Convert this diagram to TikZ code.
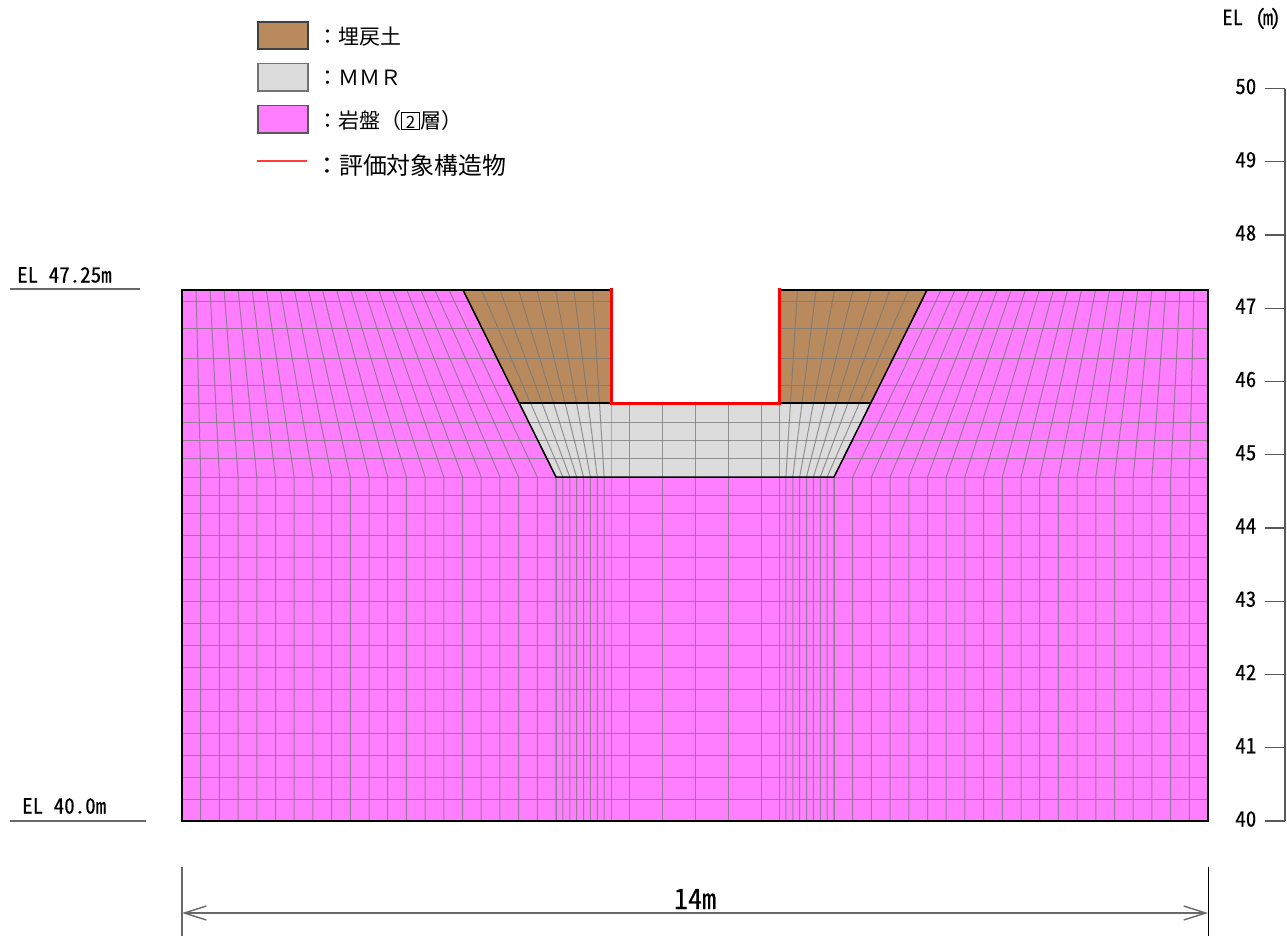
\documentclass[tikz,border=0pt]{standalone}
\usepackage{fontspec}
\usetikzlibrary{arrows.meta}
\setmainfont{Noto Sans CJK JP}
\newfontfamily\hw[RawFeature=+hwid,FakeBold=0.25]{Noto Sans CJK JP}
\definecolor{rock}{RGB}{255,126,255}
\definecolor{fillsoil}{RGB}{184,138,93}
\definecolor{mmr}{RGB}{220,220,220}
\definecolor{meshc}{RGB}{120,120,120}
\definecolor{redc}{RGB}{255,0,0}
\definecolor{legred}{RGB}{255,60,60}
\definecolor{dimc}{RGB}{105,105,105}
\tikzset{
  meshline/.style={draw=meshc,line width=1pt,draw opacity=0.75},
  bound/.style={draw=black,line width=1.5pt,line join=miter},
  legbox/.style={line width=1.2pt},
  legtext/.style={anchor=base west,inner sep=0pt,font=\fontsize{21}{21}\selectfont},
  hwtext/.style={inner sep=0pt,font=\hw\fontsize{21}{21}\selectfont},
  levelline/.style={draw=dimc,line width=1.4pt},
  dimline/.style={draw=dimc,line width=1.4pt},
}
\begin{document}
\begin{tikzpicture}[x=1pt,y=-1pt]
\useasboundingbox (0,0) rectangle (1287,937);
% regions
\fill[rock] (182,290) -- (463,290) -- (556,477) -- (834,477) -- (927,290) -- (1208,290) -- (1208,821) -- (182,821) -- cycle;
\fill[fillsoil] (463,290) -- (611,290) -- (611,403) -- (519,403) -- cycle;
\fill[fillsoil] (927,290) -- (779,290) -- (779,403) -- (871,403) -- cycle;
\fill[mmr] (519,403) -- (871,403) -- (834,477) -- (556,477) -- cycle;
% horizontal mesh lines
\foreach \y in {301,328,358,385}{
  \draw[meshline] (182,\y) -- (611,\y);
  \draw[meshline] (779,\y) -- (1208,\y);
}
\foreach \y in {403,422,440,458,477,495,513,535,557,579,601,623,645,667,689,711,733,755,777,799}
  \draw[meshline] (182,\y) -- (1208,\y);
% outer columns
\foreach \i in {0,...,20}{
  \pgfmathsetmacro{\t}{182+14.05*\i}
  \pgfmathsetmacro{\m}{182+18.7*\i}
  \pgfmathsetmacro{\tr}{1390-\t}
  \pgfmathsetmacro{\mr}{1390-\m}
  \draw[meshline] (\t,290) -- (\m,477) -- (\m,821);
  \draw[meshline] (\tr,290) -- (\mr,477) -- (\mr,821);
}
% columns under the pit sides
\foreach \i in {0,...,8}{
  \pgfmathsetmacro{\t}{463+18.5*\i}
  \pgfmathsetmacro{\c}{519+11.5*\i}
  \pgfmathsetmacro{\m}{556+6.875*\i}
  \pgfmathsetmacro{\tr}{1390-\t}
  \pgfmathsetmacro{\cr}{1390-\c}
  \pgfmathsetmacro{\mr}{1390-\m}
  \draw[meshline] (\t,290) -- (\c,403) -- (\m,477) -- (\m,821);
  \draw[meshline] (\tr,290) -- (\cr,403) -- (\mr,477) -- (\mr,821);
}
% centre columns
\foreach \x in {629,662,695,728,761}
  \draw[meshline] (\x,403) -- (\x,821);
% boundaries
\draw[bound] (463,290) -- (182,290) -- (182,821) -- (1208,821) -- (1208,290) -- (927,290);
\draw[bound] (463,290) -- (611,290);
\draw[bound] (779,290) -- (927,290);
\draw[bound] (463,290) -- (556,477) -- (834,477) -- (927,290);
\draw[bound] (519,403) -- (871,403);
\draw[draw=redc,line width=3pt,line join=miter] (611,288) -- (611,403) -- (779,403) -- (779,288);
% legend
\draw[legbox,fill=fillsoil,draw=black!75] (258,22) rectangle (308,49);
\draw[legbox,fill=mmr,draw=black!55] (258,63.5) rectangle (308,91);
\draw[legbox,fill=rock,draw=black!65] (258,105.5) rectangle (308,133);
\coordinate (legA) at (257,161);
\coordinate (legB) at (307,161);
\draw[draw=legred,line width=2pt] (legA) -- (legB);
\node[legtext] (t1) at (317,44) {：埋戻土};
\node[legtext] (t2) at (317,85.5) {：ＭＭＲ};
\node[legtext] (t3) at (317,128) {：岩盤（\fboxsep=0pt\fboxrule=1pt\framebox[19pt]{\rule[-1pt]{0pt}{16.5pt}\fontsize{17}{17}\selectfont 2}層）};
\node[legtext,font=\fontsize{23.9}{23.9}\selectfont] (t4) at (315,174) {：評価対象構造物};
% axis
\coordinate (axT) at (1285,88.5);
\coordinate (axB) at (1285,821);
\draw[draw=black!65,line width=1.2pt] (axT) -- (axB);
\foreach \v in {40,...,50}{
  \pgfmathsetmacro{\yy}{821-73.25*(\v-40)}
  \coordinate (tk\v) at (1264.5,\yy);
  \draw[draw=black!65,line width=1.2pt] (tk\v) -- (1285,\yy);
  \node[hwtext,anchor=base east] (lab\v) at (1256.5,\yy+5.5) {\v};
}
\node[hwtext,anchor=base west] (elm) at (1222,25) {EL\hspace{12pt}(\kern-3pt m\kern-3pt)};
% level labels
\coordinate (l1a) at (9.5,289);
\coordinate (l1b) at (140,289);
\coordinate (l2a) at (9.5,821);
\coordinate (l2b) at (145.5,821);
\draw[levelline] (l1a) -- (l1b);
\draw[levelline] (l2a) -- (l2b);
\node[hwtext,anchor=base west] (el1) at (17,282.5) {EL 47.25m};
\node[hwtext,anchor=base west] (el2) at (22,813.5) {EL 40.0m};
% dimension
\coordinate (dL) at (182,913);
\coordinate (dR) at (1208,913);
\draw[dimline] (182,867) -- (182,936);
\draw[draw=black,line width=1pt] (1208,867) -- (1208,936);
\draw[dimline,{Straight Barb[length=22pt,width=14pt]}-{Straight Barb[length=22pt,width=14pt]}] (dL) -- (dR);
\node[inner sep=0pt,anchor=base,font=\hw\fontsize{28}{28}\selectfont] (dimt) at (695,909) {14m};
\end{tikzpicture}
\end{document}
